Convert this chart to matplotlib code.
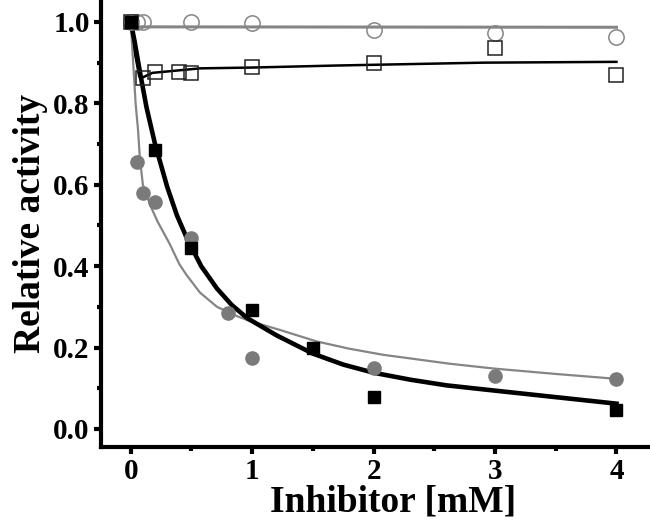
import matplotlib
matplotlib.use("Agg")
import matplotlib.pyplot as plt
from matplotlib.ticker import MultipleLocator

# measured points
open_circ_x = [0, 0.05, 0.1, 0.5, 1, 2, 3, 4]
open_circ_y = [1.0, 1.0, 1.0, 0.999, 0.998, 0.98, 0.973, 0.962]

open_sq_x = [0, 0.1, 0.2, 0.4, 0.5, 1, 2, 3, 4]
open_sq_y = [1.0, 0.862, 0.877, 0.877, 0.875, 0.89, 0.90, 0.935, 0.87]

grey_x = [0, 0.05, 0.1, 0.2, 0.5, 0.8, 1, 2, 3, 4]
grey_y = [1.0, 0.656, 0.58, 0.558, 0.468, 0.285, 0.174, 0.15, 0.13, 0.123]

black_x = [0, 0.2, 0.5, 1, 1.5, 2, 4]
black_y = [1.0, 0.685, 0.445, 0.292, 0.199, 0.079, 0.047]

# fitted curves
open_circ_fit_x = [0, 0.03, 4.0]
open_circ_fit_y = [1.0, 0.988, 0.987]

open_sq_fit_x = [0, 0.03, 0.07, 0.1, 0.18, 0.57, 1.0, 1.7, 2.9, 4.0]
open_sq_fit_y = [1.0, 0.93, 0.866, 0.864, 0.875, 0.886, 0.888, 0.893, 0.90, 0.902]

grey_fit_x = [0, 0.02, 0.04, 0.06, 0.075, 0.1, 0.16, 0.22, 0.32, 0.4, 0.46,
              0.57, 0.71, 0.85, 0.98, 1.23, 1.53, 1.8, 2.08, 2.63, 3.0, 3.5, 4.0]
grey_fit_y = [1.0, 0.9, 0.8, 0.735, 0.665, 0.6, 0.55, 0.51, 0.455, 0.405, 0.378,
              0.335, 0.30, 0.28, 0.265, 0.243, 0.215, 0.197, 0.182, 0.16, 0.148,
              0.135, 0.123]

black_fit_x = [0, 0.03, 0.08, 0.13, 0.2, 0.3, 0.38, 0.46, 0.58, 0.71, 0.83,
               0.96, 1.2, 1.5, 1.75, 2.0, 2.3, 2.6, 3.0, 3.5, 4.0]
black_fit_y = [1.0, 0.955, 0.87, 0.79, 0.70, 0.595, 0.525, 0.47, 0.40, 0.345,
               0.305, 0.272, 0.23, 0.185, 0.158, 0.138, 0.121, 0.107, 0.094,
               0.078, 0.062]

GREY = "#7a7a7a"
LINE_GREY = "#858585"

plt.rcParams["font.family"] = ["Liberation Serif", "DejaVu Serif"]
plt.rcParams["font.weight"] = "bold"

fig = plt.figure(figsize=(6.5, 5.3), dpi=100)
ax = fig.add_axes([0.155, 0.157, 0.842, 0.843])

# fit lines
ax.plot(open_circ_fit_x, open_circ_fit_y, color=LINE_GREY, lw=2.2, zorder=2)
ax.plot(open_sq_fit_x, open_sq_fit_y, color="black", lw=1.8, zorder=2)
ax.plot(grey_fit_x, grey_fit_y, color=LINE_GREY, lw=1.6, zorder=2)
ax.plot(black_fit_x, black_fit_y, color="black", lw=3.3, zorder=3)

# data points
ax.plot(open_circ_x, open_circ_y, "o", ms=11, mfc="none", mec=LINE_GREY, mew=1.1, zorder=4)
ax.plot(open_sq_x, open_sq_y, "s", ms=10, mfc="none", mec="#222222", mew=1.1, zorder=4)
ax.plot(grey_x, grey_y, "o", ms=9.5, color=GREY, mec=GREY, zorder=5)
ax.plot(black_x, black_y, "s", ms=8, color="black", zorder=5)

ax.set_xlim(-0.247, 4.26)
ax.set_ylim(-0.044, 1.054)

ax.xaxis.set_major_locator(MultipleLocator(1))
ax.xaxis.set_minor_locator(MultipleLocator(0.5))
ax.yaxis.set_major_locator(MultipleLocator(0.2))
ax.yaxis.set_minor_locator(MultipleLocator(0.1))
ax.yaxis.set_major_formatter(matplotlib.ticker.FormatStrFormatter("%.1f"))

for side in ["top", "right"]:
    ax.spines[side].set_visible(False)
for side in ["left", "bottom"]:
    ax.spines[side].set_linewidth(3)

ax.tick_params(which="major", direction="out", length=5, width=3, labelsize=21, pad=3)
ax.tick_params(which="minor", direction="out", length=3, width=3)

ax.set_xlabel("Inhibitor [mM]", fontsize=27, fontweight="bold", labelpad=2)
ax.set_ylabel("Relative activity", fontsize=27, fontweight="bold", labelpad=4)
ax.xaxis.set_label_coords(0.534, -0.085)

fig.savefig("out.png", dpi=100)
